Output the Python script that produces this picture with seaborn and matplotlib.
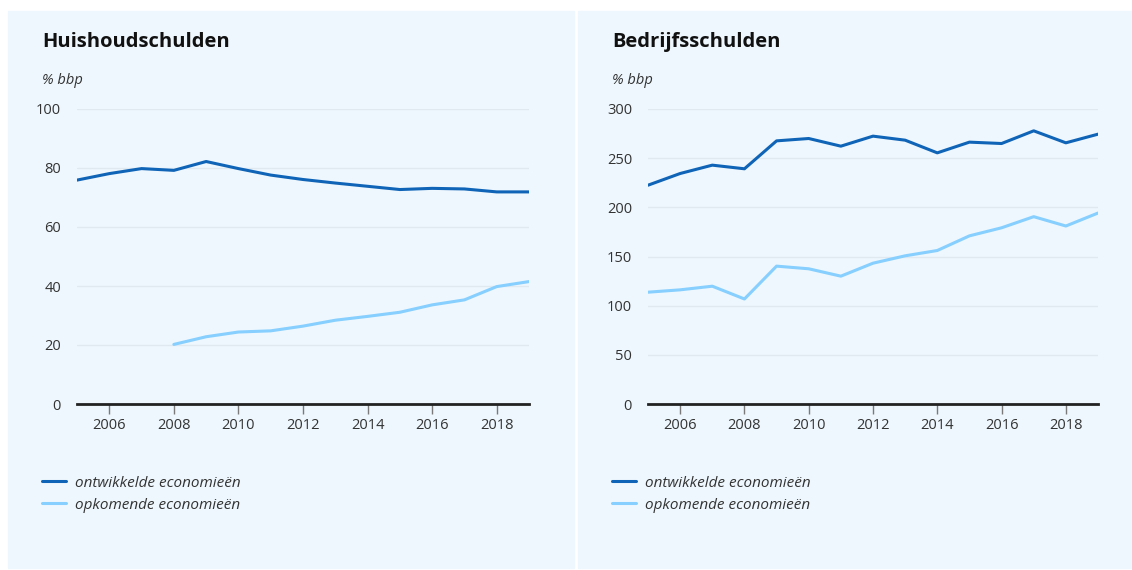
import pandas as pd
import seaborn as sns
import matplotlib.pyplot as plt
from matplotlib.patches import Rectangle

# Data
jaren = list(range(2005, 2020))
huis_ontwikkeld = [75.9, 78.1, 79.8, 79.2, 82.2, 79.8, 77.6, 76.1, 74.9, 73.8, 72.7, 73.1, 72.9, 71.9, 71.9]
huis_opkomend = [None, None, None, 20.2, 22.8, 24.4, 24.8, 26.4, 28.4, 29.7, 31.1, 33.6, 35.3, 39.8, 41.5]
bedr_ontwikkeld = [222.5, 234.4, 242.9, 239.2, 267.6, 270.0, 262.2, 272.4, 268.3, 255.4, 266.3, 264.9, 277.8, 265.6, 274.4]
bedr_opkomend = [113.7, 116.1, 119.8, 106.8, 140.2, 137.5, 130.0, 143.2, 150.7, 156.1, 171.0, 179.2, 190.5, 181.0, 194.2]

reeksen = ["ontwikkelde economieën", "opkomende economieën"]
kleuren = ["#0F64B7", "#86CFFF"]
paneel_kleur = "#EEF7FD"


def maak_df(a, b):
    df = pd.DataFrame({"jaar": jaren * 2,
                       "waarde": a + b,
                       "reeks": [reeksen[0]] * len(jaren) + [reeksen[1]] * len(jaren)})
    return df.dropna()


sns.set_style("white")
plt.rcParams["font.family"] = ["Open Sans", "DejaVu Sans"]

fig = plt.figure(figsize=(11.32, 5.70), dpi=100)
fig.patch.set_facecolor("white")

# achtergrondpanelen
fig.patches.append(Rectangle((8 / 1132, 2 / 570), 566 / 1132, 557 / 570,
                             transform=fig.transFigure, color=paneel_kleur, zorder=-10))
fig.patches.append(Rectangle((578 / 1132, 2 / 570), 554 / 1132, 557 / 570,
                             transform=fig.transFigure, color=paneel_kleur, zorder=-10))

panelen = [
    dict(titel="Huishoudschulden", df=maak_df(huis_ontwikkeld, huis_opkomend),
         pos=[77 / 1132, 166 / 570, 452 / 1132, 295 / 570], ymax=100, stap=20, tx=42),
    dict(titel="Bedrijfsschulden", df=maak_df(bedr_ontwikkeld, bedr_opkomend),
         pos=[648 / 1132, 166 / 570, 450 / 1132, 295 / 570], ymax=300, stap=50, tx=612),
]

for p in panelen:
    ax = fig.add_axes(p["pos"])
    ax.set_facecolor("none")
    sns.lineplot(data=p["df"], x="jaar", y="waarde", hue="reeks", hue_order=reeksen,
                 palette=kleuren, linewidth=2.2, ax=ax)
    ax.set_xlim(2005, 2019)
    ax.set_ylim(0, p["ymax"])
    ax.set_yticks(range(0, p["ymax"] + 1, p["stap"]))
    ax.set_xticks(range(2006, 2019, 2))
    ax.grid(axis="y", color="#E0E8F0", linewidth=1)
    ax.set_axisbelow(True)
    for s in ["top", "right", "left"]:
        ax.spines[s].set_visible(False)
    ax.spines["bottom"].set_color("#222222")
    ax.spines["bottom"].set_linewidth(2)
    ax.tick_params(axis="x", bottom=True, direction="out", length=7, width=1,
                   color="#7A7A7A", labelsize=10.5, labelcolor="#333333", pad=3)
    ax.tick_params(axis="y", left=False, labelsize=10.5, labelcolor="#333333", pad=8)
    ax.set_xlabel("")
    ax.set_ylabel("")

    fig.text(p["tx"] / 1132, 1 - 42 / 570, p["titel"], fontsize=14.5, fontweight="bold",
             color="#111111", va="center", ha="left")
    fig.text(p["tx"] / 1132, 1 - 80 / 570, "% bbp", fontsize=10.5, fontstyle="italic",
             color="#333333", va="center", ha="left")

    handles, labels = ax.get_legend_handles_labels()
    ax.get_legend().remove()
    leg = fig.legend(handles, labels, loc="upper left",
                     bbox_to_anchor=((p["tx"] - 14) / 1132, 1 - 462 / 570),
                     frameon=False, fontsize=11, handlelength=1.6,
                     labelspacing=0.45, handletextpad=0.6)
    for t in leg.get_texts():
        t.set_fontstyle("italic")
        t.set_color("#333333")

plt.savefig("out.png", dpi=100, facecolor=fig.get_facecolor())
